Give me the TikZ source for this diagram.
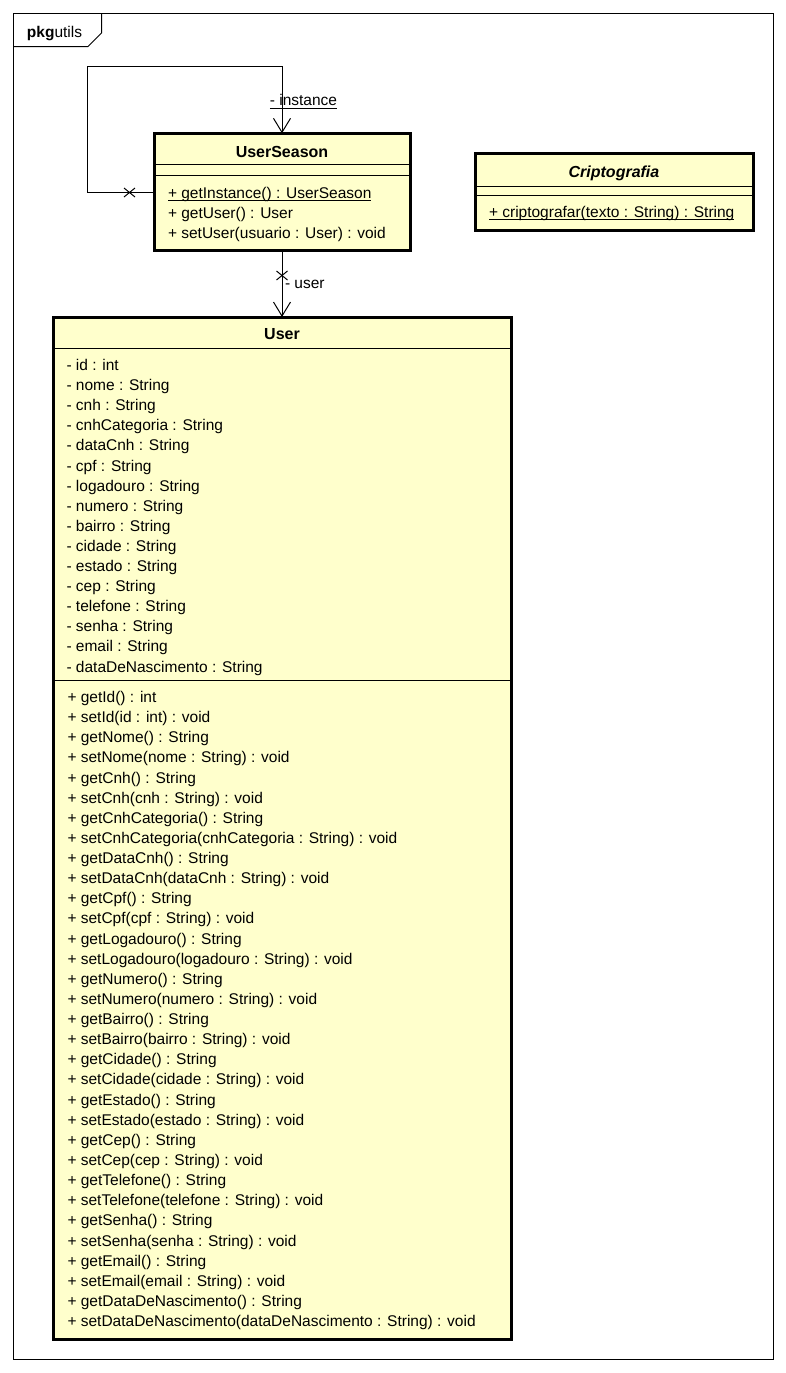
\documentclass[tikz,border=0pt]{standalone}
\usepackage{fontspec}
\setmainfont{Liberation Sans}
\usetikzlibrary{arrows.meta,calc}
\definecolor{classfill}{RGB}{255,255,204}
\begin{document}
\begin{tikzpicture}[x=1pt,y=-1pt,
  every node/.style={inner sep=0pt,outer sep=0pt},
  font=\fontsize{15.5}{18}\selectfont,
  classbox/.style={draw,line width=3pt,fill=classfill,anchor=center},
  sepline/.style={line width=1pt},
  txt/.style={anchor=base west},
  ttl/.style={anchor=base,font=\fontsize{16}{18}\selectfont\bfseries},
  assoc/.style={line width=1pt,-{Straight Barb[length=14pt,width=17pt]}},
  thin/.style={line width=1pt},
  ul/.style={line width=1pt}]
\useasboundingbox (0,0) rectangle (786,1373);
% package frame
\draw[thin] (13.5,13.5) rectangle (773.5,1359.5);
\draw[thin] (13.5,46.5) -- (88,46.5) -- (101.5,33) -- (101.5,13.5);
\node[anchor=base west] (pkg) at (27,37) {\textbf{pkg}utils};

% UserSeason
\node[classbox,minimum width=256pt,minimum height=117.4pt] (us) at (282,192) {};
\draw[sepline] ($(us.north west)+(0,31)$) -- ($(us.north east)+(0,31)$);
\draw[sepline] ($(us.north west)+(0,41.7)$) -- ($(us.north east)+(0,41.7)$);
\node[ttl] (ust) at (282,157.3) {UserSeason};
\node[txt] (usm1) at (168,198.2) {+ getInstance() : UserSeason};
\draw[ul] ($(usm1.base west)+(0,2)$) -- ($(usm1.base east)+(0,2)$);
\node[txt] (usm2) at (168,218) {+ getUser() : User};
\node[txt] (usm3) at (168,238.2) {+ setUser(usuario : User) : void};

% Criptografia
\node[classbox,minimum width=278pt,minimum height=77.4pt] (cr) at (614,192) {};
\draw[sepline] ($(cr.north west)+(0,33.4)$) -- ($(cr.north east)+(0,33.4)$);
\draw[sepline] ($(cr.north west)+(0,41.7)$) -- ($(cr.north east)+(0,41.7)$);
\node[ttl,font=\fontsize{16}{18}\selectfont\bfseries\itshape] (crt) at (614,177.3) {Criptografia};
\node[txt] (crm1) at (489,217.5) {+ criptografar(texto : String) : String};
\draw[ul] ($(crm1.base west)+(0,2)$) -- ($(crm1.base east)+(0,2)$);

% User
\node[classbox,minimum width=458pt,minimum height=1022pt] (user) at (282,828) {};
\draw[sepline] ($(user.north west)+(0,31)$) -- ($(user.north east)+(0,31)$);
\draw[sepline] ($(user.north west)+(0,363)$) -- ($(user.north east)+(0,363)$);
\node[ttl] (usert) at (282,339.7) {User};
\foreach \t [count=\i from 0] in {
  - id : int,
  - nome : String,
  - cnh : String,
  - cnhCategoria : String,
  - dataCnh : String,
  - cpf : String,
  - logadouro : String,
  - numero : String,
  - bairro : String,
  - cidade : String,
  - estado : String,
  - cep : String,
  - telefone : String,
  - senha : String,
  - email : String,
  - dataDeNascimento : String}
  \node[txt] (ua\i) at (66.5,{370.5+20.1*\i}) {\t};
\foreach \t [count=\i from 0] in {
  + getId() : int,
  + setId(id : int) : void,
  + getNome() : String,
  + setNome(nome : String) : void,
  + getCnh() : String,
  + setCnh(cnh : String) : void,
  + getCnhCategoria() : String,
  + setCnhCategoria(cnhCategoria : String) : void,
  + getDataCnh() : String,
  + setDataCnh(dataCnh : String) : void,
  + getCpf() : String,
  + setCpf(cpf : String) : void,
  + getLogadouro() : String,
  + setLogadouro(logadouro : String) : void,
  + getNumero() : String,
  + setNumero(numero : String) : void,
  + getBairro() : String,
  + setBairro(bairro : String) : void,
  + getCidade() : String,
  + setCidade(cidade : String) : void,
  + getEstado() : String,
  + setEstado(estado : String) : void,
  + getCep() : String,
  + setCep(cep : String) : void,
  + getTelefone() : String,
  + setTelefone(telefone : String) : void,
  + getSenha() : String,
  + setSenha(senha : String) : void,
  + getEmail() : String,
  + setEmail(email : String) : void,
  + getDataDeNascimento() : String,
  + setDataDeNascimento(dataDeNascimento : String) : void}
  \node[txt] (um\i) at (67.5,{702.5+20.13*\i}) {\t};

% self association (instance)
\coordinate (loopA) at (87.5,192.5);
\coordinate (loopB) at (87.5,66.5);
\draw[assoc] (us.west |- loopA) -- (loopA) -- (loopB) -- (loopB -| us.north) -- (us.north);
\coordinate (xa) at (129.5,192.5);
\draw[thin] ($(xa)+(-5.5,-4.5)$) -- ($(xa)+(5.5,4.5)$);
\draw[thin] ($(xa)+(-5.5,4.5)$) -- ($(xa)+(5.5,-4.5)$);
\node[anchor=base] (linst) at (303.5,105) {- instance};
\draw[ul] ($(linst.base west)+(0,3)$) -- ($(linst.base east)+(0,3)$);

% association to User
\draw[assoc] (us.south) -- (user.north);
\coordinate (xb) at (282,275.5);
\draw[thin] ($(xb)+(-5.5,-4.5)$) -- ($(xb)+(5.5,4.5)$);
\draw[thin] ($(xb)+(-5.5,4.5)$) -- ($(xb)+(5.5,-4.5)$);
\node[anchor=base west] (luser) at (285,288.5) {- user};
\end{tikzpicture}
\end{document}
